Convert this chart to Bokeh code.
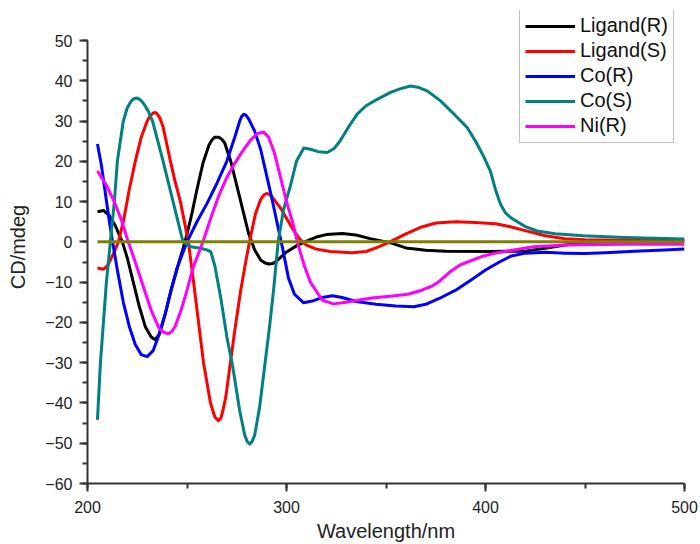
from bokeh.plotting import figure
from bokeh.models import Legend, LegendItem, Range1d, SingleIntervalTicker
from bokeh.embed import file_html
from bokeh.resources import INLINE

# ---- data ----
ligR_x = [205, 208, 211, 214, 217.5, 220, 223, 226, 229, 232, 234, 236, 239, 242, 246, 249,
          252, 255, 258, 261, 262.5, 264, 266, 267.5, 269, 272, 275, 278, 281, 284, 287, 289, 291,
          293, 295, 300, 305, 310, 315, 320, 328, 335, 342, 352, 360, 370, 380, 400, 420, 430,
          440, 450, 460, 500]
ligR_y = [7.5, 7.8, 6.5, 4, 0, -4, -10, -16, -21, -23.6, -24.3, -23, -18, -12, -5, 0,
          6, 13, 19.5, 24, 25.3, 26, 26, 25.5, 24.5, 20, 14, 8, 2, -2, -4.5, -5.2, -5.5,
          -5.4, -4.8, -2.5, -1, 0.2, 1.2, 1.8, 2.1, 1.7, 0.8, -0.2, -1.5, -2.1, -2.3, -2.4, -2.3, -1.6,
          -0.8, -0.3, 0, 0.2]

ligS_x = [205, 208, 210, 213, 215.5, 218, 221, 224, 227, 230, 231.5, 233, 234, 235, 236.5, 238,
          241.7, 244, 246.7, 250.7, 253.3, 255.8, 258.3, 261.8, 264, 265.8, 267, 268, 269.5, 271,
          274, 277, 279.5, 281.4, 284.4, 287, 288.5, 290, 291.5, 293, 297, 301, 304, 307, 310, 315,
          322, 333, 340, 346, 352, 360, 368, 375, 385, 395, 405, 412, 420, 430, 440, 450, 470, 500]
ligS_y = [-6.5, -6.8, -6, -3, 0, 5, 13, 20, 26, 30, 31.3, 32, 32.1, 31.8, 30.6, 28.5,
          20, 15, 10, 0, -10, -20, -30, -40, -43.5, -44.4, -43.8, -42, -38.5, -33,
          -22, -12, -5, 0, 7, 10.5, 11.6, 12, 11.8, 11, 8.4, 5, 2.5, 0.5, -0.8, -1.8,
          -2.4, -2.7, -2.4, -1.3, 0, 2, 3.7, 4.7, 5, 4.8, 4.5, 3.8, 2.8, 1.5, 0.8, 0.5, 0.4, 0.3]

coR_x = [205, 207, 209, 211, 212.6, 215, 218, 221, 224, 227, 230, 233, 236, 239, 242, 245, 250,
         255, 260, 265, 270, 274, 276.5, 277.5, 278.5, 279.7, 281, 284, 287, 290, 293, 296, 298,
         301, 304, 308.5, 313, 318, 323, 328, 335, 345, 355, 364, 370, 377, 385, 392, 400, 407,
         413, 420, 430, 440, 450, 460, 475, 490, 500]
coR_y = [24.3, 19, 12, 5, 0, -7, -15, -21, -25.5, -28, -28.5, -27, -23, -18, -12, -6.5, 0,
         5, 9.5, 14.5, 20, 26, 30, 31.2, 31.7, 31.4, 30.5, 27.5, 23, 16.5, 10, 3, -1.5,
         -9, -13, -15.1, -14.7, -13.8, -13.4, -13.8, -14.8, -15.5, -15.9, -16.1, -15.5, -14, -12, -9.7, -7, -5,
         -3.5, -2.8, -2.6, -2.8, -2.9, -2.7, -2.3, -2, -1.8]

coS_x = [205, 206.5, 208, 209.5, 211.5, 213.5, 215, 218, 220, 222, 223.5, 225, 226.5, 228, 230.5,
         232.7, 238, 243, 248, 252, 256.8, 260, 262, 264, 267, 270, 273, 276.5, 279, 280.3, 281.5,
         282.7, 284, 286.5, 289, 291.5, 293.5, 295.8, 298.5, 302, 305, 308.7, 312, 316, 320.5,
         324, 327, 331, 335.5, 340, 345.6, 352.3, 357, 362.3, 366, 370.7, 377.4, 384, 390.8, 395,
         399, 402.5, 405, 407.5, 410, 413, 416, 420, 426, 435, 449, 470, 500]
coS_y = [-44.2, -30, -20, -10, 0, 10, 20, 30, 33.3, 35, 35.6, 35.7, 35.3, 34.5, 32.5,
         30, 20, 10, 0, -1.2, -1.6, -2, -2.5, -6, -14, -23.5, -31, -42, -48, -49.6, -50.2,
         -49.6, -48, -41, -31, -21, -12, 0, 8, 14, 20, 23.3, 23, 22.4, 22.2,
         23.2, 25.1, 28.4, 31.7, 33.8, 35.4, 37.1, 38, 38.7, 38.4, 37.5, 35, 31.8, 28.4, 25,
         21.3, 17.5, 13, 9.4, 7.2, 5.9, 5.0, 3.8, 2.7, 2, 1.5, 1.1, 0.7]

niR_x = [205, 209, 213, 217, 220.5, 224, 228, 232, 236, 238.5, 240.7, 242.5, 244, 247, 250, 253,
         258, 262, 266, 270, 274, 278, 282, 285, 288.4, 291, 294, 297, 300, 303, 306, 309, 312,
         318, 323.6, 330, 337, 344, 352, 361, 368, 373, 377, 382, 387, 391, 399, 405, 412,
         424, 440, 470, 500]
niR_y = [17.6, 14.5, 10.5, 5.5, 0, -5, -11, -17, -21.5, -22.5, -22.8, -22.2, -21, -17, -12, -6.5,
         0, 6, 11.5, 16, 19.5, 22.6, 25.3, 26.8, 27.3, 26, 22, 16, 10, 5, -1, -6, -10,
         -14.5, -15.4, -15, -14.4, -13.9, -13.5, -13, -12, -11, -9.7, -7.5, -5.8, -5, -3.5, -2.8, -2.2,
         -1.2, -0.8, -0.6, -0.6]

base_x = [205, 500]
base_y = [0, 0]

series = [
    ("Ligand(R)", ligR_x, ligR_y, "#000000"),
    ("Ligand(S)", ligS_x, ligS_y, "#ff0000"),
    ("Co(R)", coR_x, coR_y, "#0000ff"),
    ("Co(S)", coS_x, coS_y, "#008080"),
    ("Ni(R)", niR_x, niR_y, "#ff00ff"),
]

FONT = "Liberation Sans"

# y range extends above 50 so the legend (which sits above the axis top) is not clipped;
# the y axis itself is bounded to [-60, 50]
p = figure(width=700, height=544, output_backend="svg", toolbar_location=None,
           x_range=Range1d(200, 500), y_range=Range1d(-60, 57.45),
           min_border_left=87, min_border_right=16, min_border_top=10, min_border_bottom=61)
p.outline_line_color = None
p.grid.visible = False
p.background_fill_color = "white"
p.border_fill_color = "white"

items = []
for name, xs, ys, col in series:
    r = p.line(xs, ys, line_color=col, line_width=3, line_join="round")
    items.append(LegendItem(label=name, renderers=[r]))

p.line(base_x, base_y, line_color="#808000", line_width=3)

p.xaxis.ticker = SingleIntervalTicker(interval=100, num_minor_ticks=2)
p.yaxis.ticker = SingleIntervalTicker(interval=10, num_minor_ticks=2)
p.yaxis.bounds = (-60, 50)

for ax in (p.xaxis[0], p.yaxis[0]):
    ax.axis_line_color = "#333333"
    ax.axis_line_width = 2
    ax.major_tick_line_color = "#333333"
    ax.major_tick_line_width = 2
    ax.minor_tick_line_color = "#333333"
    ax.minor_tick_line_width = 2
    ax.major_tick_in = 0
    ax.minor_tick_in = 0
    ax.major_label_text_font = FONT
    ax.major_label_text_font_size = "16px"
    ax.major_label_text_color = "#222222"
    ax.axis_label_text_font = FONT
    ax.axis_label_text_font_size = "20px"
    ax.axis_label_text_font_style = "normal"
    ax.axis_label_text_color = "#222222"

p.xaxis.axis_label = "Wavelength/nm"
p.yaxis.axis_label = "CD/mdeg"
p.xaxis.major_tick_out = 8
p.xaxis.minor_tick_out = 5
p.yaxis.major_tick_out = 8
p.yaxis.minor_tick_out = 5
p.xaxis.major_label_standoff = 9
p.yaxis.major_label_standoff = 7
p.xaxis.axis_label_standoff = 4
p.yaxis.axis_label_standoff = 13

legend = Legend(items=items, location=(432, 340))
legend.border_line_color = "#808080"
legend.border_line_width = 1.5
legend.background_fill_color = "white"
legend.background_fill_alpha = 1
legend.label_text_font = FONT
legend.label_text_font_size = "20px"
legend.label_text_color = "#111111"
legend.glyph_width = 50
legend.glyph_height = 20
legend.label_height = 20
legend.label_standoff = 5
legend.spacing = 2
legend.padding = 5
legend.margin = 0
p.add_layout(legend, "center")

open("out.html", "w").write(file_html(p, INLINE))
